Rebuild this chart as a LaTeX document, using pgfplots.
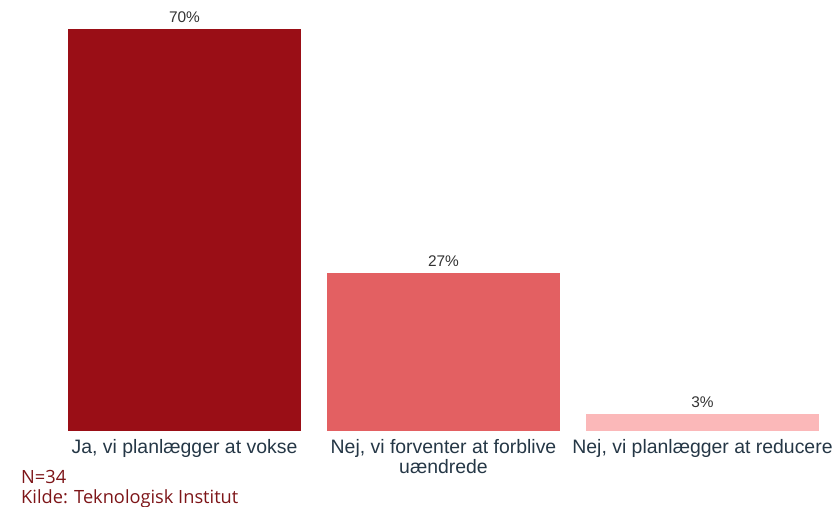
\documentclass[border=0pt]{standalone}
\usepackage{pgfplots}
\pgfplotsset{compat=1.18}
\usepackage{fontspec}
\setmainfont{Liberation Sans}
\newfontfamily\notefont{Open Sans}

\definecolor{barA}{HTML}{9A0E16}
\definecolor{barB}{HTML}{E36062}
\definecolor{barC}{HTML}{FBB8B9}
\definecolor{labelblue}{HTML}{253746}
\definecolor{valgrey}{HTML}{333333}
\definecolor{notered}{HTML}{7D1518}

\begin{document}
\begin{tikzpicture}
\useasboundingbox (0,0) rectangle (836bp,507bp);
\begin{axis}[
    at={(55bp,76bp)}, anchor=south west,
    scale only axis,
    width=777bp, height=430.5bp,
    xmin=-0.5, xmax=2.5,
    ymin=0, ymax=75,
    axis x line=bottom, axis y line=none,
    x axis line style={draw=none, -},
    major tick length=0pt,
    ybar, bar width=233bp, bar shift=0pt,
    xtick={0,1,2},
    xticklabels={{Ja, vi planlægger at vokse}, {Nej, vi forventer at forblive\\uændrede}, {Nej, vi planlægger at reducere}},
    xticklabel style={anchor=north, inner sep=0pt, align=center, text=labelblue, font=\fontsize{19.5}{20.5}\selectfont, yshift=-8bp},
    ytick=\empty,
    point meta=explicit symbolic,
    nodes near coords,
    every node near coord/.append style={font=\fontsize{15.5}{17}\selectfont, text=valgrey, anchor=south, inner sep=0pt, yshift=6bp},
    clip=false,
]
\addplot[fill=barA, draw=none] coordinates {(0,70) [70\%]};
\addplot[fill=barB, draw=none] coordinates {(1,27.5) [27\%]};
\addplot[fill=barC, draw=none] coordinates {(2,2.96) [3\%]};
\end{axis}
\node[anchor=base west, inner sep=0pt, text=notered, font=\notefont\fontsize{18.3}{19.3}\selectfont] at (21bp,23.5bp) {N=34};
\node[anchor=base west, inner sep=0pt, text=notered, font=\notefont\fontsize{18.3}{19.3}\selectfont] at (21bp,4bp) {Kilde: Teknologisk Institut};
\end{tikzpicture}
\end{document}
